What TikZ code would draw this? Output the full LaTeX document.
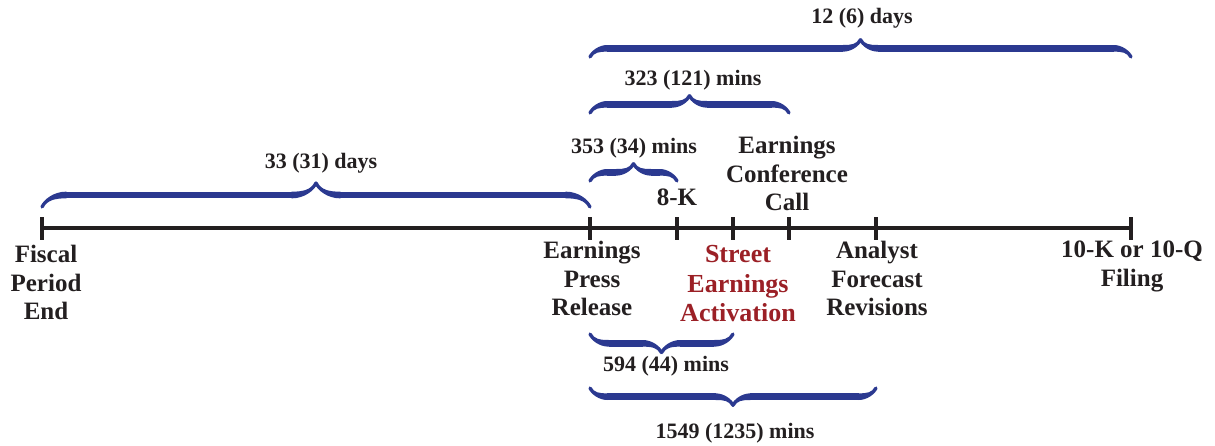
\documentclass[tikz,border=0pt]{standalone}
\usepackage{fontspec}
\setmainfont{Liberation Serif}
\usetikzlibrary{decorations.pathreplacing,calligraphy}
\definecolor{braceblue}{RGB}{43,57,144}
\definecolor{actred}{RGB}{155,32,38}
\definecolor{inkgray}{RGB}{35,31,32}

\tikzset{
  timeline/.style={draw=inkgray, line width=2.3pt},
  tickmark/.style={draw=inkgray, line width=2.3pt},
  evtlabel/.style={font=\bfseries\fontsize{18.75}{21.5}\selectfont, text=inkgray, align=center, inner sep=0pt, anchor=north},
  spanlabel/.style={font=\bfseries\fontsize{16.5}{19}\selectfont, text=inkgray, inner sep=0pt},
  upbrace/.style={decorate, decoration={calligraphic brace, amplitude=#1}, pen colour={braceblue}, line width=5pt},
  downbrace/.style={decorate, decoration={calligraphic brace, amplitude=#1, mirror}, pen colour={braceblue}, line width=5pt}
}

\begin{document}
\begin{tikzpicture}[x=0.75pt,y=0.75pt,yscale=-1,xscale=1]
\useasboundingbox (0,0) rectangle (1215,446);

%Timeline points
\coordinate (fpe) at (42,228);
\coordinate (epr) at (590,228);
\coordinate (eightk) at (677,228);
\coordinate (sea) at (733,228);
\coordinate (ecc) at (789,228);
\coordinate (afr) at (876,228);
\coordinate (filing) at (1131,228);

%Straight Lines
\draw [timeline] (fpe) -- (filing) ;
\foreach \t in {fpe,epr,eightk,sea,ecc,afr,filing}
  \draw [tickmark] (\t) ++(0,-11) -- ++(0,23) ;

% Text Node
\node [evtlabel] (fpelbl) at (46,245) {Fiscal\\Period\\End};
% Text Node
\node [evtlabel] (eprlbl) at (592,241) {Earnings\\Press\\Release};
% Text Node
\node [evtlabel] (eightklbl) at (677,189) {8-K};
% Text Node
\node [evtlabel] (ecclbl) at (787,136) {Earnings\\Conference\\Call};
% Text Node
\node [evtlabel, text=actred, font=\bfseries\fontsize{19.5}{22.3}\selectfont] (sealbl) at (738,245) {Street\\Earnings\\Activation};
% Text Node
\node [evtlabel] (afrlbl) at (877,241) {Analyst\\Forecast\\Revisions};
% Text Node
\node [evtlabel] (filinglbl) at (1132,241) {10-K or 10-Q\\Filing};

%Braces above
\draw [upbrace=18pt] (fpe |- 0,207) -- (epr |- 0,207) ;
\draw [upbrace=13pt] (epr |- 0,57) -- (filing |- 0,57) ;
\draw [upbrace=13pt] (epr |- 0,113) -- (ecc |- 0,113) ;
\draw [upbrace=13pt] (epr |- 0,181) -- (eightk |- 0,181) ;
%Braces below
\draw [downbrace=14pt] (epr |- 0,334) -- (sea |- 0,334) ;
\draw [downbrace=13pt] (epr |- 0,388) -- (afr |- 0,388) ;

% Text Node
\node [spanlabel] (days33) at (321,163) {33 (31) days};
% Text Node
\node [spanlabel] (days12) at (862,18) {12 (6) days};
% Text Node
\node [spanlabel] (mins323) at (693,80) {323 (121) mins};
% Text Node
\node [spanlabel] (mins353) at (634,148) {353 (34) mins};
% Text Node
\node [spanlabel] (mins594) at (666,366) {594 (44) mins};
% Text Node
\node [spanlabel] (mins1549) at (735,433) {1549 (1235) mins};

\end{tikzpicture}
\end{document}
